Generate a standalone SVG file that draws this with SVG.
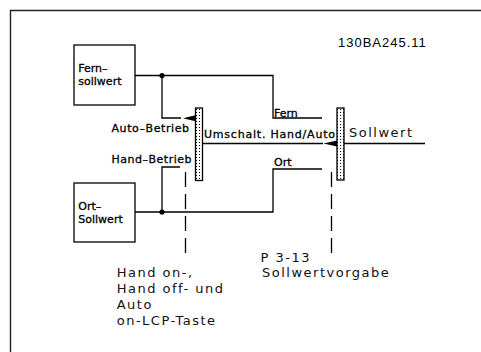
<svg xmlns="http://www.w3.org/2000/svg" width="481" height="352" viewBox="0 0 481 352">
<defs>
<pattern id="dots" width="3" height="3" patternUnits="userSpaceOnUse">
<rect width="3" height="3" fill="#fff"/>
<rect x="1" y="1" width="1" height="1" fill="#000"/>
</pattern>
<style>
.ln{fill:none;stroke:#000;stroke-width:1.3}
.box{fill:#fff;stroke:#000;stroke-width:1.3}
.bar{fill:url(#dots);stroke:#000;stroke-width:1.3}
.dash{fill:none;stroke:#000;stroke-width:1.3;stroke-dasharray:15 7}
.t{font-family:"DejaVu Sans",sans-serif;font-size:11px;fill:#000;stroke:#000;stroke-width:0.3}
.b{font-family:"DejaVu Sans",sans-serif;font-size:13px;letter-spacing:1.5px;fill:#111}
.dot{fill:#000}
.arr{fill:#000}
</style>
</defs>
<rect width="481" height="352" fill="#fff"/>
<path d="M10.5 352 V10.5 H481" fill="none" stroke="#222" stroke-width="1.4"/>
<text x="338" y="47" font-family="Liberation Sans, sans-serif" font-size="13" letter-spacing="1" fill="#000">130BA245.11</text>

<g id="connectors">
<path class="ln" d="M135 75.5 H273 V118 H322"/>
<path class="ln" d="M162 75.5 V118 H181"/>
<path class="ln" d="M135 212 H273 V169 H322"/>
<path class="ln" d="M162 212 V167 H180"/>
<path class="ln" d="M203 143.5 H323"/>
<path class="ln" d="M344 143.5 H425"/>
<path class="dash" d="M185.5 172 V260"/>
<path class="dash" d="M331.5 172 V260"/>
<circle class="dot" cx="162" cy="75.5" r="2.6"/>
<circle class="dot" cx="162" cy="212" r="2.6"/>
<polygon class="arr" points="183,118.3 195.5,115.3 195.5,121.3"/>
<polygon class="arr" points="323.5,143.5 337,140.5 337,146.5"/>
</g>

<g id="fern-sollwert">
<rect class="box" x="74" y="45" width="61" height="60"/>
<text class="t" x="78.3" y="71.7">Fern–</text>
<text class="t" x="78.3" y="85">sollwert</text>
</g>

<g id="ort-sollwert">
<rect class="box" x="74" y="183" width="61" height="59"/>
<text class="t" x="78.3" y="210">Ort–</text>
<text class="t" x="78.3" y="223.3">Sollwert</text>
</g>

<g id="switch-hand-auto">
<rect class="bar" x="195.5" y="108" width="7" height="72.5"/>
<text class="t" x="111.5" y="132" textLength="77.6" lengthAdjust="spacing">Auto–Betrieb</text>
<text class="t" x="111.5" y="162.5" textLength="80" lengthAdjust="spacing">Hand–Betrieb</text>
<text class="t" x="204" y="138.3" textLength="131" lengthAdjust="spacing">Umschalt. Hand/Auto</text>
</g>

<g id="switch-sollwert">
<rect class="bar" x="337" y="108" width="7" height="72"/>
<text class="t" x="274" y="116.7">Fern</text>
<text class="t" x="274" y="166">Ort</text>
<text class="b" x="349" y="136.7">Sollwert</text>
</g>

<g id="lcp-label">
<text class="b" x="116.7" y="277.3">Hand on-,</text>
<text class="b" x="116.7" y="293.3">Hand off- und</text>
<text class="b" x="116.7" y="309">Auto</text>
<text class="b" x="116.7" y="325">on-LCP-Taste</text>
</g>

<g id="param-label">
<text class="b" x="260.5" y="262">P 3-13</text>
<text class="b" x="262" y="277">Sollwertvorgabe</text>
</g>
</svg>
